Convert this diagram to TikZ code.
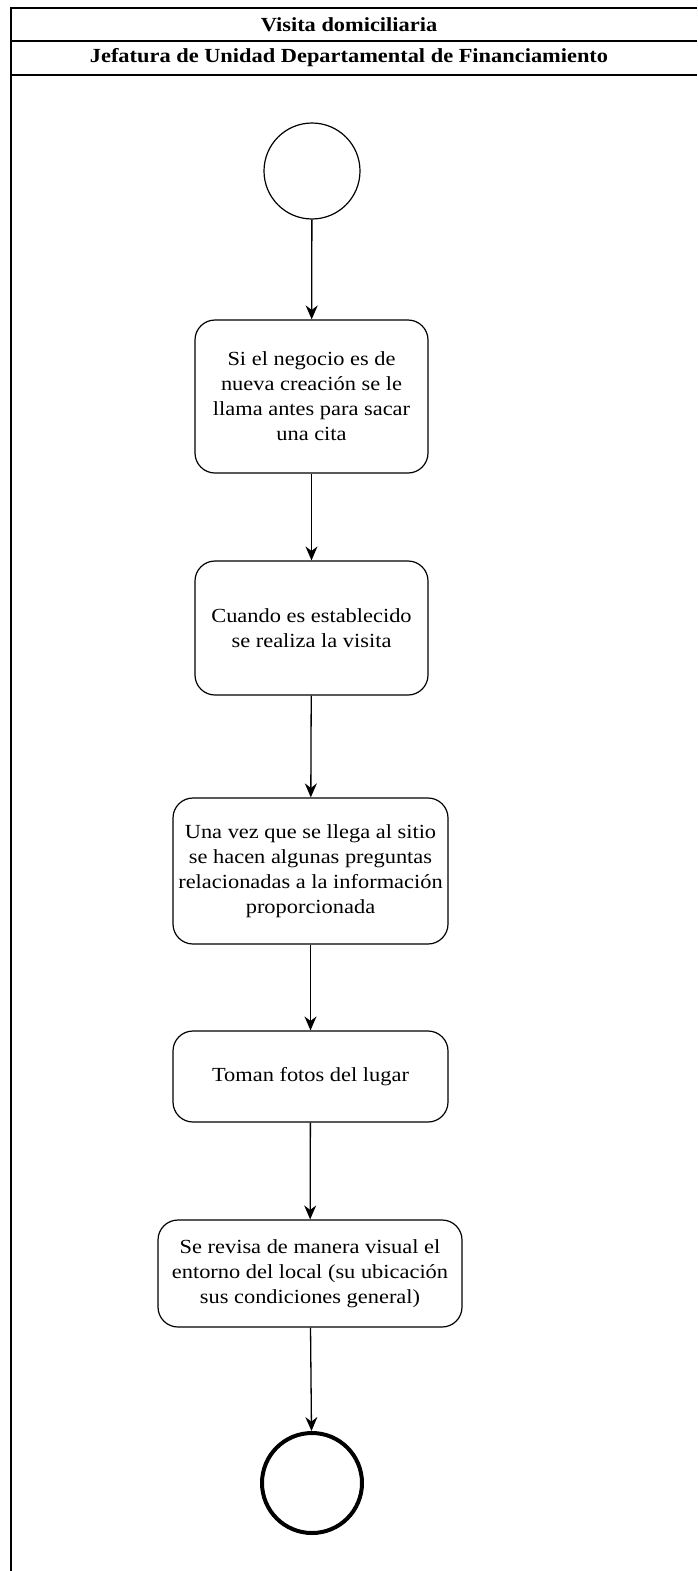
\documentclass[tikz,border=0pt]{standalone}
\usepackage{fontspec}
\setmainfont{Liberation Serif}[FakeStretch=1.12]
\usetikzlibrary{arrows.meta}
\begin{document}
\begin{tikzpicture}[x=1pt, y=-1pt, font=\fontsize{20}{25}\selectfont,
  paso/.style={draw, line width=1.2pt, rounded corners=20pt, align=center, inner sep=4pt},
  flow/.style={line width=1.3pt, -{Stealth[length=14pt, width=12pt]}},
  titulo/.style={font=\fontsize{20}{25}\selectfont\bfseries}]
  \useasboundingbox (0,0) rectangle (697,1571);

  % swimlane frame and header
  \draw[line width=1.2pt] (697,8) -- (11,8) -- (11,1571);
  \draw[line width=1.2pt] (11,41) -- (697,41);
  \draw[line width=1.2pt] (11,75) -- (697,75);
  \node[titulo] (carril) at (349,24.5) {Visita domiciliaria};
  \node[titulo] (area) at (349,58) {Jefatura de Unidad Departamental de Financiamiento};

  % start / end
  \node[draw, circle, line width=1.2pt, minimum size=96pt, inner sep=0pt] (ini) at (312,171) {};
  \node[draw, circle, line width=4pt, minimum size=100pt, inner sep=0pt] (fin) at (312,1483) {};

  % activities
  \node[paso, minimum width=233pt, minimum height=153pt] (cita) at (311.5,396.5)
    {Si el negocio es de\\ nueva creación se le\\ llama antes para sacar\\ una cita};
  \node[paso, minimum width=233pt, minimum height=134pt] (visita) at (311.5,628)
    {Cuando es establecido\\ se realiza la visita};
  \node[paso, minimum width=275pt, minimum height=146pt] (preguntas) at (310.5,871)
    {Una vez que se llega al sitio\\ se hacen algunas preguntas\\ relacionadas a la información\\ proporcionada};
  \node[paso, minimum width=275pt, minimum height=91pt] (fotos) at (310.5,1076.5)
    {Toman fotos del lugar};
  \node[paso, minimum width=304pt, minimum height=107pt] (entorno) at (310,1273.5)
    {Se revisa de manera visual el\\ entorno del local (su ubicación\\ sus condiciones general)};

  % flow
  \foreach \a/\b in {ini/cita, cita/visita, visita/preguntas, preguntas/fotos, fotos/entorno, entorno/fin}
    \draw[flow] (\a) -- (\b);
\end{tikzpicture}
\end{document}
